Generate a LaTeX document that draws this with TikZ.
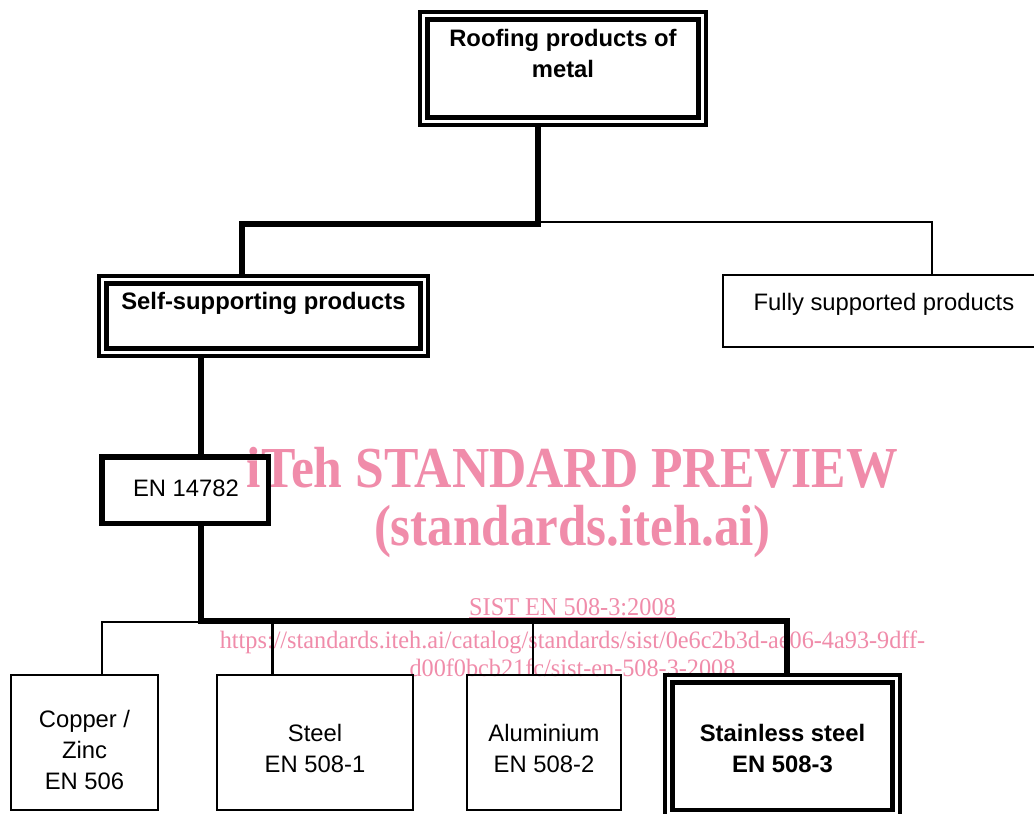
\documentclass[tikz,border=0pt]{standalone}
\usepackage{fontspec}
\setmainfont{Liberation Sans}
\newfontfamily\wmfont{Liberation Serif}
\definecolor{wmpink}{HTML}{F08CAA}

\begin{document}
\begin{tikzpicture}[
        x=0.5pt, y=-0.5pt,
        dblbox/.style={draw, double, line width=2.1pt, double distance=1.6pt},
        thinbox/.style={draw, line width=1pt},
        thickbox/.style={draw, line width=2.75pt},
        boxtext/.style={font=\fontsize{11.9}{15.4}\selectfont, align=center,
                        anchor=base, inner sep=0pt},
        heavy/.style={line width=3pt},
        light/.style={line width=1.1pt},
        watermark/.style={text=wmpink, anchor=base, inner sep=0pt}
    ]
    \useasboundingbox (0,0) rectangle (1034,814);
    \clip (0,0) rectangle (1034,814);
    \fill[white] (0,0) rectangle (1034,814);

    % preview stamp
    \node[watermark, font=\wmfont\bfseries\fontsize{29}{29}\selectfont] (wm1) at (572.5,487)
        {\scalebox{0.89}[1]{iTeh STANDARD PREVIEW}};
    \node[watermark, font=\wmfont\bfseries\fontsize{29}{29}\selectfont] (wm2) at (572.5,545)
        {\scalebox{0.88}[1]{(standards.iteh.ai)}};
    \node[watermark, font=\wmfont\fontsize{12.8}{12.8}\selectfont] (wm3) at (572.5,615)
        {\scalebox{0.95}[1]{\vtop{\hbox{SIST EN 508-3:2008}\kern1pt\hrule height 0.75pt}}};
    \node[watermark, font=\wmfont\fontsize{12.5}{12.5}\selectfont] (wm4) at (572.5,648)
        {\scalebox{0.97}[1]{https://standards.iteh.ai/catalog/standards/sist/0e6c2b3d-ae06-4a93-9dff-}};
    \node[watermark, font=\wmfont\fontsize{12.5}{12.5}\selectfont] (wm5) at (572.5,676)
        {\scalebox{0.97}[1]{d00f0bcb21fc/sist-en-508-3-2008}};

    % boxes (multi-line text sits on its last baseline)
    \node[dblbox, minimum width=139.2pt, minimum height=52.7pt] (roof) at (563,68.5) {};
    \node[boxtext] (roof-txt) at (563,77.3) {\textbf{Roofing products of}\\\textbf{metal}};

    \node[dblbox, minimum width=160.7pt, minimum height=36.2pt] (selfsup) at (263.5,316) {};
    \node[boxtext] (selfsup-txt) at (263.5,309.5) {\textbf{Self-supporting products}};

    \node[thinbox, minimum width=161pt, minimum height=36pt] (fully) at (884,311) {};
    \node[boxtext] (fully-txt) at (884,310.7) {Fully supported products};

    \node[thickbox, minimum width=83.25pt, minimum height=33.25pt] (en14782) at (185,490) {};
    \node[boxtext] (en14782-txt) at (186,496) {EN 14782};

    \node[thinbox, minimum width=73.5pt, minimum height=67.25pt] (copper) at (84.5,742.25) {};
    \node[boxtext] (copper-txt) at (84.5,789) {Copper /\\Zinc\\EN 506};

    \node[thinbox, minimum width=98pt, minimum height=67.25pt] (steel) at (315,742.25) {};
    \node[boxtext] (steel-txt) at (315,772) {Steel\\EN 508-1};

    \node[thinbox, minimum width=77pt, minimum height=67.25pt] (alu) at (544,742.25) {};
    \node[boxtext] (alu-txt) at (544,772) {Aluminium\\EN 508-2};

    \node[dblbox, minimum width=113.7pt, minimum height=67.5pt] (stainless) at (782.5,746.3) {};
    \node[boxtext] (stainless-txt) at (782.5,772) {\textbf{Stainless steel}\\\textbf{EN 508-3}};

    % branch points
    \coordinate (j1) at (538,224);
    \coordinate (j1l) at (241.5,224);
    \coordinate (j1r) at (932,222);
    \coordinate (j2) at (200.5,621);
    \coordinate (j2r) at (786.7,621);
    \coordinate (tcu) at (102,622);
    \coordinate (tst) at (272.5,622);
    \coordinate (tal) at (533,622);

    \draw[light] (j1 |- j1r) -- (j1r) -- (fully.north -| j1r);
    \draw[light] (tcu -| j2) -- (tcu) -- (copper.north -| tcu);
    \draw[light] (tst) -- (steel.north -| tst);
    \draw[light] (tal) -- (alu.north -| tal);

    \draw[heavy] (roof.south -| j1) -- (j1) -- (j1l) -- (selfsup.north -| j1l);
    \draw[heavy] (selfsup.south -| j2) -- (en14782.north -| j2);
    \draw[heavy] (en14782.south -| j2) -- (j2) -- (j2r) -- (stainless.north -| j2r);
\end{tikzpicture}
\end{document}
